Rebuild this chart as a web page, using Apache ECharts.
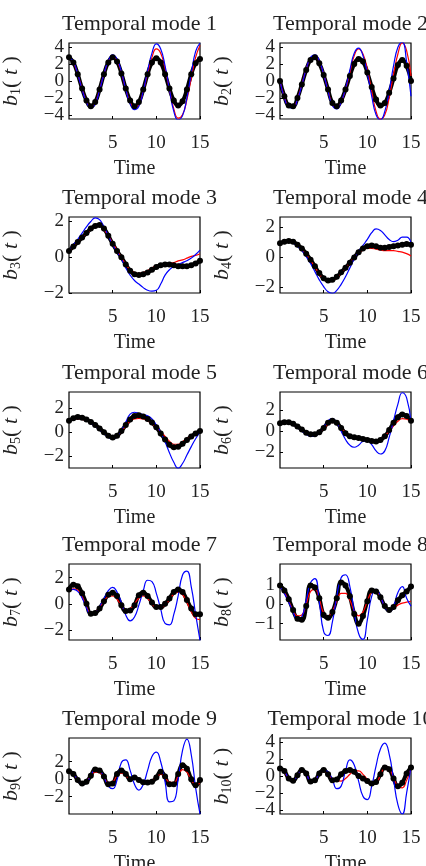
<!DOCTYPE html>
<html>
<head>
<meta charset="utf-8">
<script src="https://cdn.jsdelivr.net/npm/echarts@6/dist/echarts.min.js"></script>
<style>
  html, body { margin: 0; padding: 0; background: #fff; }
  #chart { width: 426px; height: 866px; }
</style>
</head>
<body>
<div id="chart"></div>
<script>
// time samples (shared by all modes)
const time = [0, 0.5, 1, 1.5, 2, 2.5, 3, 3.5, 4, 4.5, 5, 5.5, 6, 6.5, 7, 7.5, 8, 8.5, 9, 9.5, 10, 10.5, 11, 11.5, 12, 12.5, 13, 13.5, 14, 14.5, 15]

// mode 1
const b1Dots = [2.8, 2.2, 0.8, -0.9, -2.3, -3.0, -2.5, -1.0, 0.8, 2.2, 2.8, 2.3, 0.9, -0.9, -2.3, -3.0, -2.5, -1.0, 0.8, 2.2, 2.7, 2.2, 0.8, -0.9, -2.3, -2.9, -2.4, -1.0, 0.8, 2.1, 2.6]
const b1Red = [2.8, 2.2, 0.8, -0.9, -2.4, -3.1, -2.6, -1.0, 0.8, 2.3, 2.9, 2.4, 1.0, -1.0, -2.5, -3.2, -2.8, -1.2, 0.9, 2.8, 3.8, 3.3, 1.5, -1.0, -3.3, -4.4, -4.0, -2.2, 0.3, 2.8, 4.2]
const b1Blue = [2.8, 2.3, 0.8, -1.0, -2.5, -3.2, -2.7, -1.1, 0.8, 2.4, 3.1, 2.6, 1.1, -1.0, -2.7, -3.4, -3.0, -1.2, 1.2, 3.3, 4.4, 3.8, 1.8, -1.0, -3.6, -4.6, -4.1, -2.0, 0.9, 3.5, 4.5]
// mode 2
const b2Dots = [0, -1.8, -2.9, -3.0, -2.0, -0.4, 1.3, 2.5, 2.8, 2.1, 0.7, -1.0, -2.6, -3.0, -2.3, -1.0, 0.6, 2.0, 2.6, 2.3, 1.0, -0.7, -2.2, -2.9, -2.6, -1.4, 0.3, 1.9, 2.5, 1.8, 0.0]
const b2Red = [0, -1.9, -3.0, -3.1, -2.1, -0.4, 1.4, 2.7, 3.0, 2.3, 0.8, -1.1, -2.8, -3.2, -2.5, -1.0, 1.0, 3.0, 3.8, 3.2, 1.4, -1.2, -3.6, -4.5, -4.0, -2.0, 0.8, 3.2, 4.5, 3.6, 0.6]
const b2Blue = [0, -2.0, -3.1, -3.2, -2.2, -0.5, 1.4, 2.8, 3.1, 2.4, 0.8, -1.2, -2.9, -3.3, -2.5, -0.9, 1.3, 3.3, 3.9, 3.0, 0.9, -1.8, -4.0, -4.6, -3.6, -1.2, 1.8, 4.0, 4.6, 2.2, -1.8]
// mode 3
const b3Dots = [0.35, 0.6, 0.85, 1.1, 1.35, 1.6, 1.75, 1.8, 1.6, 1.2, 0.75, 0.35, 0.0, -0.4, -0.75, -0.95, -1.0, -0.95, -0.85, -0.7, -0.55, -0.45, -0.4, -0.4, -0.45, -0.5, -0.5, -0.5, -0.45, -0.35, -0.2]
const b3Red = [0.35, 0.6, 0.85, 1.1, 1.3, 1.55, 1.7, 1.75, 1.55, 1.2, 0.8, 0.4, 0.0, -0.4, -0.7, -0.85, -0.9, -0.85, -0.75, -0.6, -0.5, -0.45, -0.4, -0.35, -0.3, -0.2, -0.15, -0.05, 0.05, 0.1, 0.2]
const b3Blue = [0.35, 0.7, 1.0, 1.35, 1.7, 2.0, 2.2, 2.1, 1.7, 1.2, 0.7, 0.3, -0.1, -0.6, -1.0, -1.3, -1.5, -1.7, -1.85, -1.9, -1.85, -1.5, -1.0, -0.7, -0.5, -0.4, -0.3, -0.2, -0.05, 0.15, 0.4]
// mode 4
const b4Dots = [0.95, 1.05, 1.1, 1.05, 0.85, 0.6, 0.25, -0.15, -0.6, -1.05, -1.4, -1.55, -1.5, -1.3, -1.0, -0.7, -0.35, 0.0, 0.35, 0.6, 0.75, 0.8, 0.75, 0.65, 0.65, 0.7, 0.75, 0.8, 0.85, 0.9, 0.85]
const b4Red = [0.95, 1.0, 1.05, 1.0, 0.8, 0.55, 0.2, -0.2, -0.65, -1.1, -1.45, -1.6, -1.55, -1.35, -1.05, -0.7, -0.35, 0.0, 0.3, 0.5, 0.6, 0.6, 0.55, 0.5, 0.45, 0.45, 0.45, 0.4, 0.35, 0.25, 0.1]
const b4Blue = [0.95, 1.0, 1.05, 0.95, 0.75, 0.45, 0.05, -0.4, -0.95, -1.5, -1.95, -2.3, -2.4, -2.2, -1.8, -1.3, -0.7, -0.1, 0.4, 0.8, 1.2, 1.65, 1.9, 1.8, 1.5, 1.2, 1.05, 1.15, 1.35, 1.35, 1.0]
// mode 5
const b5Dots = [0.95, 1.15, 1.25, 1.2, 1.05, 0.85, 0.6, 0.3, 0.0, -0.3, -0.45, -0.3, 0.1, 0.6, 1.05, 1.35, 1.4, 1.3, 1.1, 0.8, 0.4, -0.1, -0.6, -1.05, -1.25, -1.2, -0.95, -0.65, -0.35, -0.1, 0.1]
const b5Red = [0.95, 1.05, 1.1, 1.05, 0.95, 0.75, 0.5, 0.25, -0.05, -0.35, -0.5, -0.35, 0.05, 0.5, 0.9, 1.1, 1.15, 1.1, 0.95, 0.7, 0.4, 0.05, -0.35, -0.75, -1.0, -1.0, -0.8, -0.55, -0.3, -0.05, 0.15]
const b5Blue = [0.95, 1.1, 1.15, 1.1, 0.95, 0.75, 0.5, 0.2, -0.1, -0.4, -0.55, -0.35, 0.15, 0.85, 1.5, 1.65, 1.55, 1.45, 1.35, 1.1, 0.6, 0.0, -0.8, -1.7, -2.5, -3.0, -2.6, -1.9, -1.2, -0.55, 0.0]
// mode 6
const b6Dots = [0.75, 0.85, 0.85, 0.7, 0.45, 0.15, -0.15, -0.3, -0.3, -0.1, 0.3, 0.8, 1.0, 0.8, 0.3, -0.2, -0.5, -0.6, -0.65, -0.75, -0.85, -0.95, -1.0, -0.85, -0.5, 0.1, 0.8, 1.35, 1.6, 1.45, 1.0]
const b6Red = [0.75, 0.8, 0.75, 0.6, 0.35, 0.05, -0.2, -0.35, -0.35, -0.15, 0.25, 0.65, 0.85, 0.7, 0.3, -0.1, -0.4, -0.55, -0.65, -0.75, -0.85, -0.9, -0.9, -0.75, -0.45, 0.0, 0.5, 0.95, 1.2, 1.15, 0.85]
const b6Blue = [0.8, 0.85, 0.8, 0.6, 0.35, 0.0, -0.3, -0.5, -0.45, -0.1, 0.4, 1.0, 1.2, 0.8, 0.0, -0.8, -1.35, -1.55, -1.35, -1.0, -0.95, -1.3, -1.9, -2.2, -1.9, -0.6, 1.0, 2.6, 3.7, 3.2, 0.8]
// mode 7
const b7Dots = [1.1, 1.45, 1.35, 0.8, 0.0, -0.75, -0.7, -0.35, 0.2, 0.7, 0.85, 0.6, -0.1, -0.55, -0.5, -0.1, 0.65, 0.85, 0.6, 0.1, -0.25, -0.25, 0.0, 0.4, 0.9, 1.1, 0.9, 0.3, -0.35, -0.8, -0.8]
const b7Red = [1.0, 1.15, 1.05, 0.55, -0.2, -0.7, -0.6, -0.25, 0.2, 0.55, 0.6, 0.35, -0.15, -0.45, -0.35, 0.0, 0.45, 0.6, 0.4, 0.0, -0.3, -0.3, -0.1, 0.3, 0.75, 0.9, 0.7, 0.1, -0.6, -1.1, -1.2]
const b7Blue = [1.0, 1.1, 0.95, 0.45, -0.3, -0.85, -0.7, -0.2, 0.4, 1.0, 1.25, 0.9, 0.1, -0.85, -1.3, -1.0, -0.1, 1.0, 1.8, 1.7, 0.8, -0.4, -1.5, -1.6, -0.8, 0.6, 2.2, 2.5, 1.3, -0.8, -2.8]
// mode 8
const b8Dots = [0.95, 0.7, 0.25, -0.3, -0.75, -0.8, -0.1, 0.95, 0.85, 0.3, -0.55, -0.7, -0.4, 0.3, 1.1, 0.95, 0.4, -0.5, -1.0, -0.6, 0.15, 0.7, 0.65, 0.35, -0.1, -0.3, -0.15, 0.2, 0.45, 0.65, 0.9]
const b8Red = [0.9, 0.6, 0.15, -0.3, -0.6, -0.55, 0.0, 0.65, 0.75, 0.25, -0.45, -0.6, -0.35, 0.15, 0.55, 0.55, 0.2, -0.35, -0.6, -0.4, 0.15, 0.6, 0.65, 0.35, -0.1, -0.3, -0.2, -0.05, 0.05, 0.1, 0.15]
const b8Blue = [0.9, 0.55, 0.1, -0.4, -0.8, -0.65, 0.2, 1.1, 1.3, 0.1, -1.4, -1.6, -0.9, 0.4, 1.35, 1.5, 0.9, -0.4, -1.5, -1.8, -0.8, 0.4, 0.75, 0.4, -0.15, -0.4, -0.1, 0.6, 0.9, 0.3, -0.1]
// mode 9
const b9Dots = [0.9, 0.6, -0.1, -0.5, -0.3, 0.4, 1.1, 1.0, 0.3, -0.6, -0.5, 0.6, 1.0, 0.6, 0.0, 0.2, -0.1, -0.35, -0.4, -0.3, 0.2, 0.85, 0.3, -0.6, -0.6, 0.6, 1.6, 1.2, 0.0, -0.7, -0.1]
const b9Red = [0.8, 0.5, 0.0, -0.4, -0.2, 0.35, 0.8, 0.75, 0.2, -0.4, -0.3, 0.4, 0.7, 0.4, 0.0, 0.1, -0.1, -0.3, -0.3, -0.15, 0.2, 0.55, 0.2, -0.35, -0.4, 0.35, 1.1, 0.8, -0.1, -0.6, -0.5]
const b9Blue = [0.9, 0.6, -0.1, -0.6, -0.4, 0.4, 1.1, 1.0, 0.2, -0.8, -1.1, -0.1, 1.9, 2.2, 1.0, -0.6, -1.25, -0.6, 1.0, 2.6, 3.1, 2.0, -0.3, -2.6, -2.5, 0.0, 3.3, 4.6, 2.8, -1.0, -4.0]
// mode 10
const b10Dots = [0.9, 0.6, -0.3, -0.55, 0.1, 0.7, 0.3, -0.65, -0.5, 0.3, 0.7, 0.2, -0.5, -0.4, 0.2, 0.6, 0.7, 0.5, 0.0, -0.3, -0.6, -0.9, -0.7, 0.2, 1.0, 0.8, -0.3, -1.2, -0.8, 0.3, 1.0]
const b10Red = [0.8, 0.5, -0.3, -0.5, 0.1, 0.6, 0.25, -0.55, -0.45, 0.25, 0.55, 0.2, -0.35, -0.55, -0.6, -0.3, 0.2, 0.6, 0.6, 0.2, -0.4, -0.9, -0.8, 0.1, 0.9, 0.8, -0.2, -1.2, -1.4, -0.5, 0.8]
const b10Blue = [0.9, 0.6, -0.3, -0.6, 0.1, 0.7, 0.3, -0.6, -0.5, 0.3, 0.7, 0.5, -0.4, -1.5, -1.2, 0.6, 1.9, 1.3, -0.6, -2.4, -2.8, -1.2, 1.2, 3.2, 3.9, 2.6, -0.4, -3.4, -4.5, -2.0, 1.1]

// y limits and tick labels of each panel
const yMins = [-4.5, -4.5, -2, -2.38, -2.97, -3.55, -2.76, -1.83, -4.0, -4.5]
const yMaxs = [4.5, 4.5, 2.25, 2.7, 3.33, 3.77, 3.04, 2.05, 4.72, 4.5]
const yTicks = [
  [-4, -2, 0, 2, 4], [-4, -2, 0, 2, 4],
  [-2, 0, 2], [-2, 0, 2], [-2, 0, 2], [-2, 0, 2], [-2, 0, 2],
  [-1, 0, 1], [-2, 0, 2], [-4, -2, 0, 2, 4]
]
const xTicks = [5, 10, 15]

const dots = [b1Dots, b2Dots, b3Dots, b4Dots, b5Dots, b6Dots, b7Dots, b8Dots, b9Dots, b10Dots]
const reds = [b1Red, b2Red, b3Red, b4Red, b5Red, b6Red, b7Red, b8Red, b9Red, b10Red]
const blues = [b1Blue, b2Blue, b3Blue, b4Blue, b5Blue, b6Blue, b7Blue, b8Blue, b9Blue, b10Blue]

const FONT = '"Liberation Serif", "Times New Roman", serif'
const colLeft = [69, 280]
const rowTop = [43, 217, 392, 564, 738]
const plotW = 131
const plotH = 76

const pairs = arr => time.map((t, i) => [t, arr[i]])
const fmt = v => (v < 0 ? '\u2212' + (-v) : '' + v)

function yLabelStyle (values) {
  return {
    fontFamily: FONT, fontSize: 19, color: '#222', margin: 5,
    customValues: values, formatter: fmt,
    showMinLabel: true, showMaxLabel: true, hideOverlap: false
  }
}

var option = { animation: false, title: [], grid: [], xAxis: [], yAxis: [], series: [] }
var labelAxes = []

for (let k = 0; k < 10; k++) {
  const col = k % 2
  const row = Math.floor(k / 2)
  const left = colLeft[col]
  const top = rowTop[row]

  option.title.push({
    text: 'Temporal mode ' + (k + 1),
    left: left + plotW / 2,
    top: top - 35,
    textAlign: 'center',
    textStyle: { fontFamily: FONT, fontSize: 22, fontWeight: 'normal', color: '#222' }
  })
  option.grid.push({
    left: left, top: top, width: plotW, height: plotH, outerBoundsMode: 'none',
    show: true, borderColor: '#000', borderWidth: 1.2, backgroundColor: '#fff'
  })
  option.xAxis.push({
    gridIndex: k, type: 'value', min: 0, max: 15, interval: 5,
    name: 'Time', nameLocation: 'middle', nameGap: 40,
    nameTextStyle: { fontFamily: FONT, fontSize: 20, color: '#222' },
    axisLine: { show: false, onZero: false },
    axisTick: { inside: true, length: 3, lineStyle: { color: '#000' }, customValues: xTicks },
    axisLabel: {
      fontFamily: FONT, fontSize: 19, color: '#222', margin: 15, customValues: xTicks,
      showMinLabel: true, showMaxLabel: true
    },
    splitLine: { show: false }
  })

  // labels close together get dropped, so every other tick label goes on a twin axis
  const evenTicks = yTicks[k].filter((v, i) => i % 2 === 0)
  const oddTicks = yTicks[k].filter((v, i) => i % 2 === 1)
  option.yAxis.push({
    gridIndex: k, type: 'value', min: yMins[k], max: yMaxs[k],
    name: '{i|b}{s|' + (k + 1) + '}{p|( }{i|t}{p| )}',
    nameLocation: 'middle', nameRotate: 90, nameGap: 46,
    nameTextStyle: {
      rich: {
        i: { fontFamily: FONT, fontSize: 22, fontStyle: 'italic', color: '#222', lineHeight: 24 },
        p: { fontFamily: FONT, fontSize: 22, color: '#222', lineHeight: 24 },
        s: { fontFamily: FONT, fontSize: 14, color: '#222', lineHeight: 24, verticalAlign: 'bottom' }
      }
    },
    axisLine: { show: false, onZero: false },
    axisTick: { inside: true, length: 3, lineStyle: { color: '#000' }, customValues: yTicks[k] },
    axisLabel: yLabelStyle(evenTicks),
    splitLine: { show: false }
  })
  labelAxes.push({
    gridIndex: k, type: 'value', min: yMins[k], max: yMaxs[k], position: 'left',
    axisLine: { show: false, onZero: false },
    axisTick: { show: false },
    axisLabel: yLabelStyle(oddTicks),
    splitLine: { show: false }
  })

  // black dots, then red, then blue on top
  option.series.push({
    type: 'line', xAxisIndex: k, yAxisIndex: k, data: pairs(dots[k]),
    smooth: true, symbol: 'circle', symbolSize: 6, showSymbol: true,
    itemStyle: { color: '#000' }, lineStyle: { color: '#000', width: 4 }
  })
  option.series.push({
    type: 'line', xAxisIndex: k, yAxisIndex: k, data: pairs(reds[k]),
    smooth: true, showSymbol: false,
    lineStyle: { color: '#ff0000', width: 1.2 }
  })
  option.series.push({
    type: 'line', xAxisIndex: k, yAxisIndex: k, data: pairs(blues[k]),
    smooth: true, showSymbol: false,
    lineStyle: { color: '#0000ff', width: 1.2 }
  })
}
option.yAxis = option.yAxis.concat(labelAxes)

const chart = echarts.init(document.getElementById('chart'))
chart.setOption(option)
</script>
</body>
</html>
